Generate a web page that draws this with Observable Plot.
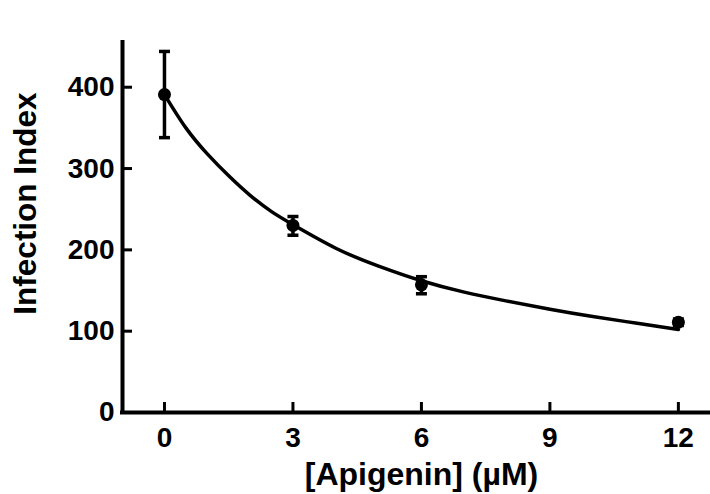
<!DOCTYPE html>
<html>
<head>
<meta charset="utf-8">
<script src="https://cdn.jsdelivr.net/npm/d3@7"></script>
<script src="https://cdn.jsdelivr.net/npm/@observablehq/plot@0.6"></script>
<style>
  html, body { margin: 0; padding: 0; background: #fff; }
  svg { display: block; }
</style>
</head>
<body>
<div id="chart"></div>
<script>
// Measured points (mean ± error)
const conc = [0, 3, 6, 12];
const infection = [391, 230, 157, 111];
const errLow = [338, 218, 146, 107];
const errHigh = [444, 241, 167, 115];

// Fitted curve
const curveX = [0, 0.5, 1, 1.5, 2, 2.5, 3, 4, 5, 6, 7, 8, 9, 10, 11, 12];
const curveY = [391, 350, 318, 291, 267, 247, 231, 202, 180, 162, 148, 137, 127, 118, 110, 102];

const xTicks = [0, 3, 6, 9, 12];
const yTicks = [0, 100, 200, 300, 400];

const xLabel = "[Apigenin] (µM)";
const yLabel = "Infection Index";

const points = conc.map((x, i) => ({x, y: infection[i], lo: errLow[i], hi: errHigh[i]}));
const curve = curveX.map((x, i) => ({x, y: curveY[i]}));

const xDomain = [-0.98, 12.75];
const yDomain = [0, 455];

const font = "'Liberation Sans', Arial, Helvetica, sans-serif";

const capSymbol = {
  draw(ctx) {
    ctx.moveTo(-5.5, 0);
    ctx.lineTo(5.5, 0);
  }
};

const chart = Plot.plot({
  width: 710,
  height: 494,
  marginLeft: 122,
  marginRight: 0,
  marginTop: 42,
  marginBottom: 82,
  style: {fontFamily: font, fontWeight: "bold", background: "#fff", color: "#000"},
  x: {domain: xDomain},
  y: {domain: yDomain},
  marks: [
    // axis lines
    Plot.ruleY([0], {stroke: "#000", strokeWidth: 4, strokeLinecap: "square"}),
    Plot.ruleX([xDomain[0]], {stroke: "#000", strokeWidth: 4, strokeLinecap: "square"}),
    // inward ticks
    Plot.axisX({ticks: xTicks, tickSize: 10, dy: -10, text: null, strokeWidth: 3, label: null}),
    Plot.axisY({ticks: yTicks, tickSize: 10, dx: 10, text: null, strokeWidth: 3, label: null}),
    // tick labels
    Plot.axisX({ticks: xTicks, tickSize: 0, tickPadding: 15, fontSize: 28, fontWeight: "bold", label: null}),
    Plot.axisY({ticks: yTicks, tickSize: 0, tickPadding: 8, fontSize: 28, fontWeight: "bold", label: null}),
    // axis titles
    Plot.text([xLabel], {frameAnchor: "bottom", textAnchor: "middle", dx: 5, dy: 72, lineAnchor: "bottom", fontSize: 32, fontWeight: "bold", fill: "#000"}),
    Plot.text([yLabel], {frameAnchor: "left", textAnchor: "middle", dx: -97, dy: -24, rotate: -90, lineAnchor: "middle", fontSize: 31.5, fontWeight: "bold", fill: "#000"}),
    // fitted curve
    Plot.line(curve, {x: "x", y: "y", curve: "natural", stroke: "#000", strokeWidth: 3.5}),
    // error bars
    Plot.ruleX(points, {x: "x", y1: "lo", y2: "hi", stroke: "#000", strokeWidth: 3.5}),
    Plot.dot(points, {x: "x", y: "lo", symbol: capSymbol, stroke: "#000", strokeWidth: 3.5, fill: "none"}),
    Plot.dot(points, {x: "x", y: "hi", symbol: capSymbol, stroke: "#000", strokeWidth: 3.5, fill: "none"}),
    // points
    Plot.dot(points, {x: "x", y: "y", r: 6.5, fill: "#000", stroke: "none"})
  ]
});

document.getElementById("chart").appendChild(chart);
</script>
</body>
</html>
